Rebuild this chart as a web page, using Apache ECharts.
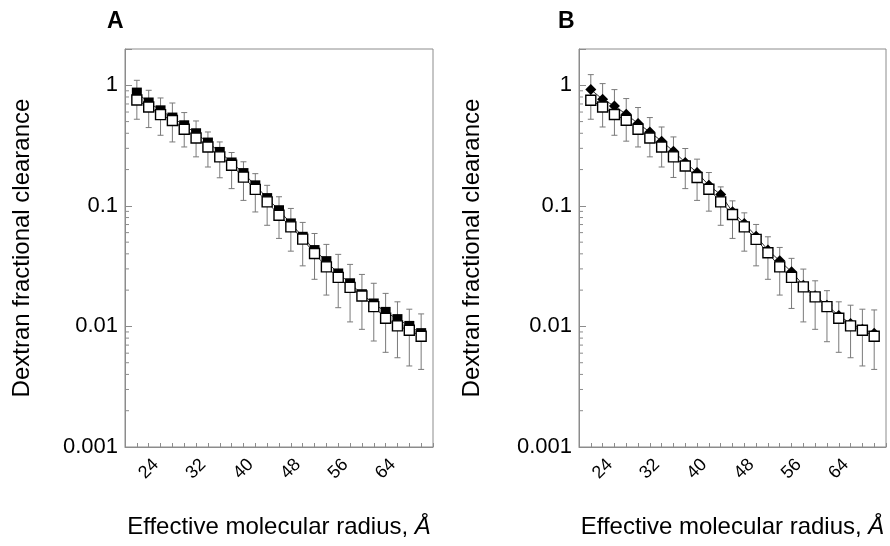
<!DOCTYPE html>
<html>
<head>
<meta charset="utf-8">
<script src="https://cdn.jsdelivr.net/npm/echarts@6/dist/echarts.min.js"></script>
<style>
html, body { margin: 0; background: #fff; }
#chart { width: 890px; height: 546px; }
</style>
</head>
<body>
<div id="chart"></div>
<script>
// effective molecular radius (Å)
const radius = [22, 24, 26, 28, 30, 32, 34, 36, 38, 40, 42, 44, 46, 48, 50, 52, 54, 56, 58, 60, 62, 64, 66, 68, 70];

// panel A
const aFilled = [0.87, 0.72, 0.62, 0.54, 0.466, 0.40, 0.335, 0.28, 0.229, 0.187, 0.148, 0.116, 0.092, 0.0715, 0.0554, 0.043, 0.0348, 0.0275, 0.0228, 0.0185, 0.0155, 0.0132, 0.0115, 0.0101, 0.0088];
const aOpen = [0.755, 0.66, 0.571, 0.51, 0.432, 0.366, 0.308, 0.255, 0.217, 0.173, 0.137, 0.108, 0.0837, 0.067, 0.053, 0.0403, 0.0312, 0.0255, 0.0211, 0.0179, 0.0146, 0.0117, 0.0101, 0.0093, 0.0083];
const aErrHigh = [1.10, 0.909, 0.785, 0.713, 0.594, 0.506, 0.410, 0.339, 0.277, 0.232, 0.185, 0.148, 0.119, 0.0952, 0.0729, 0.059, 0.0479, 0.0396, 0.0327, 0.027, 0.0228, 0.0188, 0.016, 0.0139, 0.0127];
const aErrLow = [0.523, 0.446, 0.385, 0.339, 0.308, 0.255, 0.210, 0.171, 0.139, 0.111, 0.089, 0.069, 0.0537, 0.0421, 0.0318, 0.0246, 0.0182, 0.0143, 0.0109, 0.00946, 0.00757, 0.0061, 0.0055, 0.0047, 0.0044];

// panel B
const bFilled = [0.921, 0.766, 0.674, 0.575, 0.482, 0.41, 0.344, 0.284, 0.229, 0.189, 0.148, 0.124, 0.0892, 0.0715, 0.0561, 0.043, 0.035, 0.0284, 0.022, 0.018, 0.015, 0.0123, 0.0106, 0.00946, 0.0088];
const bOpen = [0.751, 0.661, 0.572, 0.513, 0.432, 0.366, 0.308, 0.255, 0.214, 0.172, 0.1375, 0.108, 0.0849, 0.067, 0.0527, 0.0408, 0.0312, 0.0255, 0.0213, 0.0176, 0.0146, 0.0117, 0.0101, 0.0093, 0.0083];
const bErrHigh = [1.226, 1.033, 0.921, 0.776, 0.654, 0.54, 0.451, 0.373, 0.299, 0.244, 0.189, 0.1437, 0.110, 0.0875, 0.0701, 0.0554, 0.0452, 0.0367, 0.0299, 0.0239, 0.0198, 0.016, 0.015, 0.0139, 0.0137];
const bErrLow = [0.523, 0.451, 0.385, 0.344, 0.308, 0.255, 0.210, 0.172, 0.139, 0.111, 0.0904, 0.069, 0.0537, 0.0421, 0.0318, 0.0246, 0.0182, 0.0141, 0.0109, 0.00946, 0.00747, 0.0061, 0.0055, 0.0047, 0.0044];

// axis labels
const xLabels = [24, 32, 40, 48, 56, 64];
const yLabels = [0.001, 0.01, 0.1, 1];
const yMinor = [0.002, 0.003, 0.004, 0.005, 0.006, 0.007, 0.008, 0.009,
  0.02, 0.03, 0.04, 0.05, 0.06, 0.07, 0.08, 0.09,
  0.2, 0.3, 0.4, 0.5, 0.6, 0.7, 0.8, 0.9];

const font = 'Liberation Sans, Arial, Helvetica, sans-serif';
const frame = '#8c8c8c';

function errorBars(idx, low, high) {
  return {
    type: 'custom',
    xAxisIndex: idx,
    yAxisIndex: idx,
    z: 1,
    silent: true,
    data: radius.map((r, i) => [r, low[i], high[i]]),
    renderItem: function (params, api) {
      const lo = api.coord([api.value(0), api.value(1)]);
      const hi = api.coord([api.value(0), api.value(2)]);
      const w = 3;
      const st = { stroke: '#7a7a7a', lineWidth: 1 };
      return {
        type: 'group',
        children: [
          { type: 'line', shape: { x1: lo[0], y1: lo[1], x2: hi[0], y2: hi[1] }, style: st },
          { type: 'line', shape: { x1: hi[0] - w, y1: hi[1], x2: hi[0] + w, y2: hi[1] }, style: st },
          { type: 'line', shape: { x1: lo[0] - w, y1: lo[1], x2: lo[0] + w, y2: lo[1] }, style: st }
        ]
      };
    }
  };
}

// minor ticks of the log axis (2..9 in each decade)
function minorTicks(idx) {
  return {
    type: 'custom',
    xAxisIndex: idx,
    yAxisIndex: idx,
    silent: true,
    clip: false,
    data: yMinor.map(v => [20, v]),
    renderItem: function (params, api) {
      const p = api.coord([api.value(0), api.value(1)]);
      return { type: 'line', shape: { x1: p[0], y1: p[1], x2: p[0] + 4, y2: p[1] }, style: { stroke: frame, lineWidth: 1 } };
    }
  };
}

function lineSeries(idx, values, symbol, size, filled, z) {
  return {
    type: 'line',
    xAxisIndex: idx,
    yAxisIndex: idx,
    z: z,
    data: radius.map((r, i) => [r, values[i]]),
    symbol: symbol,
    symbolSize: size,
    showAllSymbol: true,
    lineStyle: { color: '#000', width: 0.8 },
    itemStyle: filled
      ? { color: '#000', borderColor: '#000', borderWidth: 0 }
      : { color: '#fff', borderColor: '#000', borderWidth: 1.4 }
  };
}

function xAxis(idx) {
  return {
    type: 'value',
    gridIndex: idx,
    min: 20,
    max: 72,
    interval: 2,
    name: 'Effective molecular radius, {i|Å}',
    nameLocation: 'middle',
    nameGap: 68,
    nameTextStyle: { fontFamily: font, fontSize: 24, color: '#000', rich: { i: { fontFamily: font, fontSize: 24, fontStyle: 'italic', color: '#000' } } },
    axisLine: { lineStyle: { color: frame, width: 1 } },
    axisTick: { inside: true, length: 4, lineStyle: { color: frame } },
    splitLine: { show: false },
    axisLabel: {
      rotate: 45,
      align: 'center',
      verticalAlign: 'middle',
      margin: 22,
      fontFamily: font,
      fontSize: 18,
      color: '#000',
      formatter: v => (xLabels.indexOf(v) >= 0 ? String(v) : '')
    }
  };
}

function yAxis(idx, gap) {
  return {
    type: 'log',
    logBase: 10,
    gridIndex: idx,
    min: 0.001,
    max: 2,
    name: 'Dextran fractional clearance',
    nameLocation: 'middle',
    nameGap: gap,
    nameTextStyle: { fontFamily: font, fontSize: 24, color: '#000' },
    axisLine: { lineStyle: { color: frame, width: 1 } },
    axisTick: { inside: true, length: 7, lineStyle: { color: frame } },
    splitLine: { show: false },
    axisLabel: {
      margin: 7,
      fontFamily: font,
      fontSize: 22,
      color: '#000',
      formatter: function (v) {
        const t = yLabels.find(l => Math.abs(l - v) / l < 1e-6);
        return t === undefined ? '' : String(t);
      }
    }
  };
}

const chart = echarts.init(document.getElementById('chart'));
chart.setOption({
  animation: false,
  backgroundColor: '#fff',
  title: [
    { text: 'A', left: 107, top: 10, padding: 0, textStyle: { fontFamily: font, fontSize: 23, fontWeight: 'bold', color: '#000' } },
    { text: 'B', left: 558, top: 10, padding: 0, textStyle: { fontFamily: font, fontSize: 23, fontWeight: 'bold', color: '#000' } }
  ],
  grid: [
    { left: 125, top: 49, width: 308, height: 398, show: true, borderColor: frame, borderWidth: 1, backgroundColor: 'transparent' },
    { left: 579, top: 49, width: 307, height: 398, show: true, borderColor: frame, borderWidth: 1, backgroundColor: 'transparent' }
  ],
  xAxis: [xAxis(0), xAxis(1)],
  yAxis: [yAxis(0, 91), yAxis(1, 95)],
  series: [
    errorBars(0, aErrLow, aErrHigh),
    minorTicks(0),
    lineSeries(0, aFilled, 'rect', 10, true, 3),
    lineSeries(0, aOpen, 'rect', 10, false, 4),
    errorBars(1, bErrLow, bErrHigh),
    minorTicks(1),
    lineSeries(1, bFilled, 'diamond', 11, true, 3),
    lineSeries(1, bOpen, 'rect', 10, false, 4)
  ]
});
</script>
</body>
</html>
